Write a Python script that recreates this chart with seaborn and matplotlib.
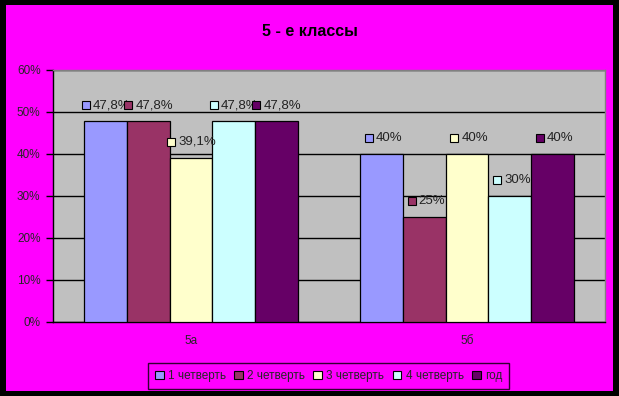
import pandas as pd
import matplotlib
matplotlib.use("Agg")
import matplotlib.pyplot as plt
import matplotlib.transforms as mtransforms
from matplotlib.patches import Rectangle
import seaborn as sns

# data
classes = ["5а", "5б"]
periods = ["1 четверть", "2 четверть", "3 четверть", "4 четверть", "год"]
values_5a = [47.8, 47.8, 39.1, 47.8, 47.8]
values_5b = [40, 25, 40, 30, 40]
labels_5a = ["47,8%", "47,8%", "39,1%", "47,8%", "47,8%"]
labels_5b = ["40%", "25%", "40%", "30%", "40%"]
colors = ["#9999FF", "#993366", "#FFFFCC", "#CCFFFF", "#660066"]

df = pd.DataFrame({
    "класс": [classes[0]] * 5 + [classes[1]] * 5,
    "период": periods * 2,
    "значение": values_5a + values_5b,
    "подпись": labels_5a + labels_5b,
})

sns.set_style("white")
plt.rcParams["font.family"] = ["Liberation Sans", "DejaVu Sans"]

W, H = 619, 396
fig = plt.figure(figsize=(W / 100, H / 100), dpi=100, facecolor="black")
fig.patches.append(Rectangle((6 / W, 5 / H), 607 / W, 386 / H, transform=fig.transFigure,
                             facecolor="#FF00FF", edgecolor="none", zorder=-10))

ax = fig.add_axes([53 / W, 1 - 322 / H, 552 / W, 252 / H])
ax.set_facecolor("#C0C0C0")

sns.barplot(data=df, x="класс", y="значение", hue="период", hue_order=periods,
            palette=colors, width=0.772, gap=0, edgecolor="black", linewidth=0.9,
            saturation=1, ax=ax, legend=True, zorder=3)

ax.set_ylim(0, 60)
ax.set_xlim(-0.5, 1.5)
ax.set_yticks(range(0, 61, 10))
ax.set_yticklabels([f"{v}%" for v in range(0, 61, 10)], fontsize=8.5)
ax.yaxis.grid(True, color="black", linewidth=1, zorder=1)
ax.set_axisbelow(True)
ax.set_xticks([0, 1])
ax.set_xticklabels(classes, fontsize=8.5)
ax.set_xticks([0.5], minor=True)
ax.tick_params(axis="x", which="major", length=0, pad=9)
ax.tick_params(axis="x", which="minor", length=5, width=1, color="black", direction="out")
ax.tick_params(axis="y", length=5, width=1, color="black", direction="out", left=True, pad=4)
ax.set_xlabel("")
ax.set_ylabel("")
for side in ["left", "bottom"]:
    ax.spines[side].set_color("black")
    ax.spines[side].set_linewidth(1)
for side in ["top", "right"]:
    ax.spines[side].set_color("#808080")
    ax.spines[side].set_linewidth(1)

# value labels with small colour keys (offsets in pixels -> points)
px = 72 / 100
for i, cont in enumerate(ax.containers):
    sub = df[df["период"] == periods[i]]
    for bar, lab in zip(cont.patches, sub["подпись"]):
        xc = bar.get_x() + bar.get_width() / 2
        h = bar.get_height()
        tw = 7.4 * len(lab)
        total = 7 + 3 + tw
        left = -total / 2
        tr_box = mtransforms.offset_copy(ax.transData, fig=fig, x=(left + 3.5) * px,
                                         y=16 * px, units="points")
        ax.plot([xc], [h], marker="s", markersize=5.2, markerfacecolor=colors[i],
                markeredgecolor="black", markeredgewidth=0.8, transform=tr_box,
                clip_on=False, zorder=5)
        tr_txt = mtransforms.offset_copy(ax.transData, fig=fig, x=(left + 10.5) * px,
                                         y=16 * px, units="points")
        ax.text(xc, h, lab, transform=tr_txt, ha="left", va="center", fontsize=9.5,
                color="#222222", zorder=5, clip_on=False)

fig.text(0.5, 1 - 31 / H, "5 - е классы", ha="center", va="center",
         fontsize=11.5, fontweight="bold", color="black")

leg = ax.legend(loc="center", bbox_to_anchor=((328.5 - 53) / 552, (-54) / 252),
                ncol=5, frameon=True, fontsize=8.5, handlelength=0.75, handleheight=0.75,
                handletextpad=0.35, columnspacing=0.7, borderpad=0.6,
                facecolor="#FF00FF", edgecolor="black", fancybox=False)
leg.get_frame().set_linewidth(1)
for hnd in leg.legend_handles:
    hnd.set_edgecolor("black")
    hnd.set_linewidth(0.8)

fig.savefig("out.png", dpi=100, facecolor="black")
